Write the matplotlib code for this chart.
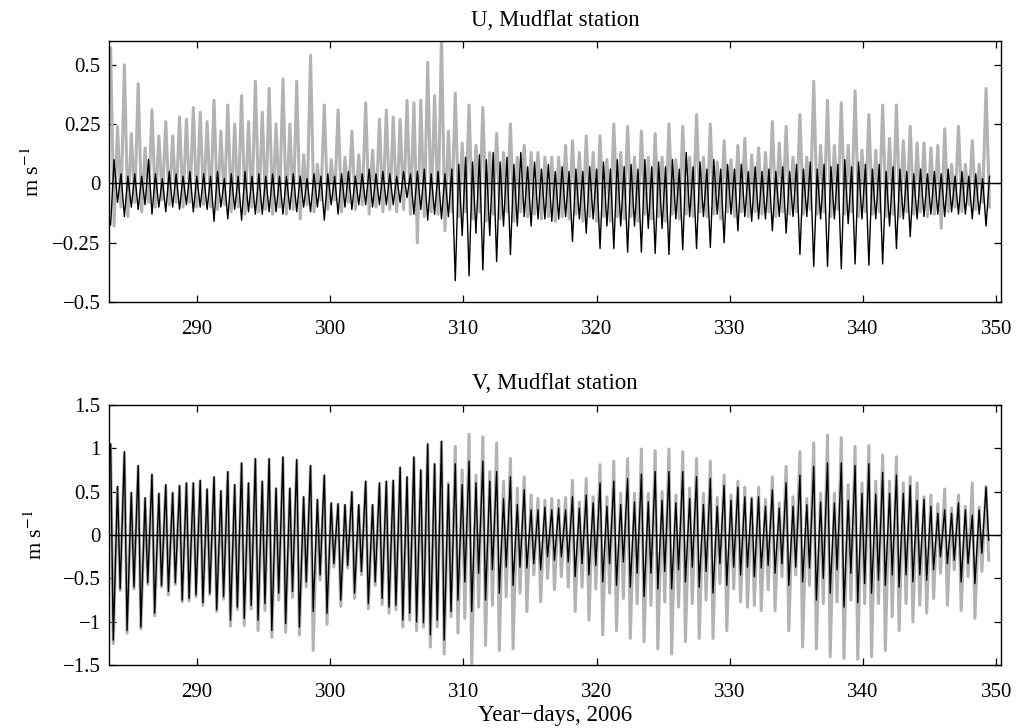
import matplotlib
matplotlib.use('Agg')
import matplotlib.pyplot as plt
import numpy as np

plt.rcParams['font.family'] = 'serif'
plt.rcParams['font.serif'] = ['Liberation Serif', 'DejaVu Serif']
plt.rcParams['mathtext.fontset'] = 'stix'

# first tidal cycle (year-day) and semi-diurnal period, one value per cycle below
day0 = 283.52
period = 0.5175

# U component: cycle maxima / minima
u_gray_hi = [0.57, 0.24, 0.50, 0.21, 0.42, 0.15, 0.31, 0.20, 0.26, 0.20,
             0.28, 0.27, 0.32, 0.30, 0.26, 0.35, 0.22, 0.33, 0.25, 0.37,
             0.26, 0.43, 0.30, 0.40, 0.25, 0.44, 0.25, 0.43, 0.12, 0.54,
             0.08, 0.33, 0.10, 0.31, 0.11, 0.22, 0.12, 0.34, 0.14, 0.27,
             0.31, 0.28, 0.27, 0.35, 0.34, 0.35, 0.51, 0.37, 0.62, 0.22,
             0.38, 0.17, 0.33, 0.16, 0.32, 0.13, 0.21, 0.13, 0.25, 0.11,
             0.16, 0.13, 0.13, 0.11, 0.11, 0.11, 0.16, 0.18, 0.13, 0.20,
             0.13, 0.20, 0.10, 0.25, 0.13, 0.24, 0.11, 0.22, 0.11, 0.21,
             0.11, 0.25, 0.10, 0.24, 0.11, 0.29, 0.11, 0.25, 0.09, 0.18,
             0.10, 0.16, 0.19, 0.12, 0.15, 0.13, 0.26, 0.17, 0.24, 0.11,
             0.29, 0.11, 0.43, 0.16, 0.35, 0.16, 0.34, 0.16, 0.39, 0.14,
             0.29, 0.14, 0.33, 0.19, 0.33, 0.18, 0.24, 0.17, 0.17, 0.15,
             0.16, 0.23, 0.08, 0.24, 0.08, 0.18, 0.08, 0.40]
u_gray_lo = [-0.18, -0.10, -0.14, -0.08, -0.12, -0.08, -0.10, -0.07, -0.09, -0.08,
             -0.10, -0.08, -0.10, -0.09, -0.10, -0.11, -0.09, -0.12, -0.10, -0.13,
             -0.10, -0.12, -0.11, -0.13, -0.10, -0.13, -0.11, -0.15, -0.09, -0.12,
             -0.07, -0.11, -0.07, -0.12, -0.08, -0.11, -0.09, -0.13, -0.10, -0.12,
             -0.11, -0.12, -0.11, -0.13, -0.25, -0.14, -0.12, -0.13, -0.20, -0.12,
             -0.14, -0.12, -0.15, -0.12, -0.16, -0.13, -0.15, -0.12, -0.16, -0.12,
             -0.14, -0.13, -0.15, -0.14, -0.16, -0.14, -0.15, -0.13, -0.16, -0.14,
             -0.16, -0.14, -0.16, -0.14, -0.15, -0.14, -0.16, -0.13, -0.15, -0.14,
             -0.16, -0.13, -0.15, -0.13, -0.14, -0.12, -0.14, -0.13, -0.15, -0.12,
             -0.14, -0.12, -0.14, -0.12, -0.13, -0.12, -0.14, -0.12, -0.13, -0.12,
             -0.13, -0.11, -0.13, -0.12, -0.14, -0.11, -0.13, -0.12, -0.14, -0.12,
             -0.13, -0.12, -0.14, -0.13, -0.14, -0.12, -0.13, -0.12, -0.14, -0.13,
             -0.19, -0.12, -0.10, -0.12, -0.09, -0.11, -0.08, -0.10]
u_black_hi = [0.10, 0.04, 0.03, 0.04, 0.03, 0.10, 0.04, 0.02, 0.05, 0.04,
              0.03, 0.05, 0.03, 0.04, 0.03, 0.05, 0.02, 0.04, 0.03, 0.05,
              0.03, 0.04, 0.03, 0.04, 0.03, 0.03, 0.04, 0.03, 0.02, 0.04,
              0.03, 0.04, 0.03, 0.04, 0.05, 0.03, 0.04, 0.06, 0.04, 0.05,
              0.04, 0.03, 0.05, 0.04, 0.05, 0.06, 0.04, 0.05, 0.04, 0.06,
              0.08, 0.11, 0.09, 0.12, 0.10, 0.13, 0.09, 0.11, 0.08, 0.13,
              0.07, 0.09, 0.06, 0.08, 0.05, 0.07, 0.05, 0.06, 0.05, 0.07,
              0.06, 0.09, 0.06, 0.10, 0.07, 0.08, 0.06, 0.10, 0.07, 0.09,
              0.07, 0.10, 0.06, 0.13, 0.07, 0.09, 0.06, 0.10, 0.06, 0.08,
              0.06, 0.08, 0.05, 0.07, 0.05, 0.06, 0.05, 0.07, 0.05, 0.08,
              0.06, 0.09, 0.06, 0.08, 0.07, 0.08, 0.10, 0.07, 0.09, 0.08,
              0.06, 0.08, 0.05, 0.07, 0.06, 0.05, 0.04, 0.06, 0.04, 0.05,
              0.04, 0.06, 0.03, 0.05, 0.03, 0.04, 0.02, 0.03]
u_black_lo = [-0.175, -0.08, -0.14, -0.10, -0.11, -0.09, -0.13, -0.10, -0.12, -0.10,
              -0.11, -0.09, -0.12, -0.10, -0.11, -0.16, -0.10, -0.15, -0.11, -0.155,
              -0.12, -0.13, -0.13, -0.12, -0.12, -0.13, -0.11, -0.12, -0.10, -0.12,
              -0.10, -0.155, -0.09, -0.13, -0.10, -0.11, -0.09, -0.09, -0.10, -0.09,
              -0.09, -0.09, -0.08, -0.06, -0.13, -0.11, -0.155, -0.13, -0.15, -0.14,
              -0.41, -0.22, -0.39, -0.21, -0.365, -0.22, -0.33, -0.18, -0.30, -0.18,
              -0.14, -0.18, -0.15, -0.15, -0.16, -0.15, -0.14, -0.245, -0.15, -0.21,
              -0.15, -0.275, -0.18, -0.275, -0.18, -0.29, -0.18, -0.29, -0.19, -0.295,
              -0.19, -0.30, -0.15, -0.28, -0.14, -0.275, -0.14, -0.27, -0.13, -0.25,
              -0.13, -0.20, -0.14, -0.16, -0.15, -0.15, -0.20, -0.14, -0.21, -0.14,
              -0.30, -0.14, -0.35, -0.15, -0.35, -0.15, -0.36, -0.17, -0.34, -0.15,
              -0.345, -0.15, -0.34, -0.18, -0.275, -0.15, -0.225, -0.15, -0.14, -0.13,
              -0.13, -0.14, -0.12, -0.13, -0.13, -0.15, -0.13, -0.18]

# V component
v_black_hi = [1.05, 0.56, 0.96, 0.49, 0.80, 0.43, 0.70, 0.48, 0.58, 0.49,
              0.57, 0.60, 0.60, 0.63, 0.53, 0.67, 0.51, 0.73, 0.58, 0.83,
              0.60, 0.88, 0.62, 0.88, 0.54, 0.90, 0.54, 0.87, 0.44, 0.80,
              0.41, 0.69, 0.37, 0.36, 0.35, 0.50, 0.35, 0.62, 0.35, 0.60,
              0.62, 0.63, 0.78, 0.67, 0.90, 0.75, 1.05, 0.82, 1.08, 0.58,
              0.82, 0.58, 0.85, 0.60, 0.85, 0.62, 0.73, 0.42, 0.67, 0.35,
              0.52, 0.29, 0.29, 0.32, 0.29, 0.31, 0.29, 0.44, 0.31, 0.46,
              0.37, 0.60, 0.33, 0.62, 0.35, 0.65, 0.38, 0.70, 0.38, 0.73,
              0.40, 0.73, 0.37, 0.73, 0.42, 0.67, 0.35, 0.65, 0.33, 0.57,
              0.40, 0.55, 0.44, 0.42, 0.44, 0.33, 0.52, 0.31, 0.60, 0.33,
              0.69, 0.35, 0.79, 0.38, 0.83, 0.37, 0.83, 0.40, 0.80, 0.48,
              0.82, 0.47, 0.72, 0.48, 0.69, 0.48, 0.57, 0.40, 0.41, 0.33,
              0.25, 0.29, 0.25, 0.37, 0.29, 0.23, 0.29, 0.55]
v_black_lo = [-1.21, -0.62, -1.10, -0.60, -1.06, -0.55, -0.90, -0.58, -0.65, -0.55,
              -0.75, -0.73, -0.69, -0.78, -0.67, -0.86, -0.71, -0.98, -0.83, -0.96,
              -0.81, -0.98, -0.79, -1.10, -0.67, -1.02, -0.65, -1.06, -0.54, -0.88,
              -0.46, -0.90, -0.33, -0.75, -0.35, -0.67, -0.42, -0.79, -0.54, -0.73,
              -0.83, -0.81, -0.98, -0.90, -1.00, -1.01, -1.15, -0.98, -1.21, -0.88,
              -0.75, -0.54, -0.88, -0.44, -0.75, -0.40, -0.67, -0.37, -0.58, -0.37,
              -0.38, -0.33, -0.40, -0.25, -0.29, -0.25, -0.31, -0.48, -0.33, -0.46,
              -0.35, -0.54, -0.33, -0.58, -0.31, -0.60, -0.44, -0.71, -0.44, -0.62,
              -0.42, -0.62, -0.40, -0.54, -0.37, -0.60, -0.42, -0.67, -0.33, -0.58,
              -0.37, -0.46, -0.37, -0.48, -0.38, -0.35, -0.44, -0.33, -0.58, -0.37,
              -0.54, -0.38, -0.75, -0.50, -0.67, -0.40, -0.83, -0.44, -0.78, -0.56,
              -0.67, -0.52, -0.58, -0.46, -0.60, -0.46, -0.54, -0.46, -0.52, -0.40,
              -0.25, -0.33, -0.29, -0.54, -0.33, -0.56, -0.21, -0.06]
v_gray_hi = [1.03, 0.55, 0.95, 0.48, 0.79, 0.42, 0.69, 0.47, 0.57, 0.48,
             0.56, 0.59, 0.59, 0.62, 0.52, 0.66, 0.50, 0.72, 0.57, 0.82,
             0.59, 0.87, 0.61, 0.87, 0.53, 0.89, 0.53, 0.86, 0.43, 0.79,
             0.40, 0.68, 0.36, 0.35, 0.34, 0.49, 0.34, 0.61, 0.34, 0.59,
             0.61, 0.62, 0.77, 0.66, 0.89, 0.74, 1.04, 0.81, 1.07, 0.60,
             1.02, 0.75, 1.16, 0.69, 1.13, 0.73, 1.06, 0.62, 0.88, 0.54,
             0.67, 0.46, 0.42, 0.40, 0.42, 0.40, 0.43, 0.63, 0.38, 0.65,
             0.44, 0.81, 0.44, 0.85, 0.48, 0.88, 0.48, 0.99, 0.48, 0.97,
             0.50, 0.99, 0.46, 0.96, 0.54, 0.88, 0.48, 0.85, 0.43, 0.69,
             0.46, 0.62, 0.55, 0.43, 0.55, 0.41, 0.67, 0.37, 0.79, 0.44,
             0.96, 0.42, 1.06, 0.48, 1.15, 0.48, 1.12, 0.58, 1.02, 0.60,
             1.03, 0.62, 0.92, 0.62, 0.90, 0.60, 0.67, 0.60, 0.44, 0.46,
             0.36, 0.53, 0.31, 0.46, 0.33, 0.60, 0.32, 0.56]
v_gray_lo = [-1.25, -0.64, -1.13, -0.62, -1.08, -0.57, -0.93, -0.60, -0.69, -0.57,
             -0.77, -0.76, -0.71, -0.81, -0.69, -0.88, -0.74, -1.05, -0.86, -1.04,
             -0.85, -1.10, -0.87, -1.18, -0.75, -1.12, -0.72, -1.15, -0.60, -1.33,
             -0.52, -1.03, -0.37, -0.82, -0.38, -0.73, -0.46, -0.85, -0.58, -0.80,
             -0.90, -0.86, -1.06, -0.98, -1.10, -1.06, -1.29, -1.06, -1.37, -0.94,
             -1.13, -0.96, -1.48, -0.83, -1.27, -0.81, -1.33, -0.71, -1.31, -0.67,
             -0.88, -0.46, -0.77, -0.50, -0.63, -0.48, -0.60, -0.88, -0.60, -0.98,
             -0.62, -1.15, -0.67, -1.10, -0.73, -1.19, -0.79, -1.23, -0.81, -1.31,
             -0.77, -1.37, -0.83, -1.23, -0.79, -1.19, -0.75, -1.19, -0.56, -1.10,
             -0.62, -0.77, -0.83, -0.81, -0.87, -0.63, -0.87, -0.48, -1.10, -0.46,
             -1.29, -0.58, -1.31, -0.79, -1.40, -0.77, -1.42, -0.75, -1.43, -0.79,
             -1.40, -0.79, -1.33, -0.94, -1.10, -0.79, -1.00, -0.81, -0.90, -0.73,
             -0.44, -0.81, -0.40, -0.87, -0.48, -0.96, -0.42, -0.29]

days = day0 + period * np.arange(len(v_black_hi))


def cycle_line(first, second, lag):
    # one point per extreme, second extreme 'lag' days after the first
    t = np.column_stack([days, days + lag]).ravel()
    v = np.column_stack([first, second]).ravel()
    return t, v


gray = '#b3b3b3'
fig = plt.figure(figsize=(10.16, 7.28), dpi=100)
ax1 = fig.add_axes([0.1073, 0.5852, 0.8784, 0.3585])
ax2 = fig.add_axes([0.1073, 0.0861, 0.8784, 0.3580])

t, v = cycle_line(u_gray_hi, u_gray_lo, 0.26)
ax1.plot(t, v, color=gray, lw=2.2)
t, v = cycle_line(u_black_lo, u_black_hi, 0.26)
ax1.plot(t, v, color='black', lw=1.0)

t, v = cycle_line(v_gray_hi, v_gray_lo, 0.2)
ax2.plot(t, v, color=gray, lw=2.2)
t, v = cycle_line(v_black_hi, v_black_lo, 0.2)
ax2.plot(t, v, color='black', lw=1.0)

for ax in (ax1, ax2):
    ax.axhline(0, color='black', lw=1.0, zorder=3)
    ax.set_xlim(283.4, 350.4)
    ax.set_xticks([290, 300, 310, 320, 330, 340, 350])
    ax.tick_params(direction='in', top=True, right=True, length=5, width=0.9, labelsize=15)
    ax.tick_params(axis='x', pad=13)
    ax.tick_params(axis='y', pad=6)
    ax.set_ylabel('m s$^{-1}$', fontsize=16)
    for s in ax.spines.values():
        s.set_linewidth(1.0)

ax1.set_ylim(-0.5, 0.6)
ax1.set_yticks([-0.5, -0.25, 0, 0.25, 0.5])
ax1.set_yticklabels(['\u22120.5', '\u22120.25', '0', '0.25', '0.5'])
ax1.set_title('U, Mudflat station', fontsize=16.5, pad=11)
ax1.yaxis.set_label_coords(-0.073, 0.5)

ax2.set_ylim(-1.5, 1.5)
ax2.set_yticks([-1.5, -1, -0.5, 0, 0.5, 1, 1.5])
ax2.set_yticklabels(['\u22121.5', '\u22121', '\u22120.5', '0', '0.5', '1', '1.5'])
ax2.set_title('V, Mudflat station', fontsize=16.5, pad=11)
ax2.yaxis.set_label_coords(-0.070, 0.5)
ax2.set_xlabel('Year\u2212days, 2006', fontsize=16.5, labelpad=2)

fig.savefig('out.png', dpi=100)
